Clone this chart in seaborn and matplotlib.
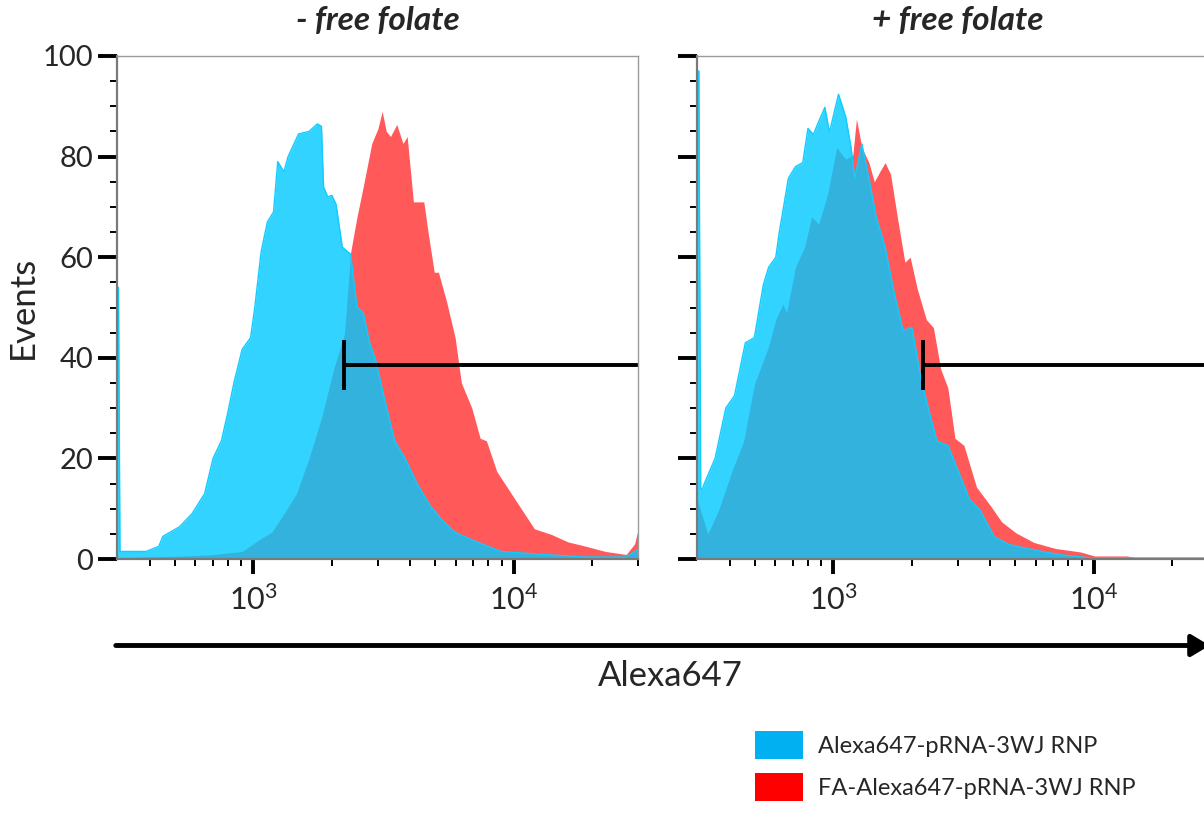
import numpy as np
import pandas as pd
import matplotlib
matplotlib.use("Agg")
import matplotlib.pyplot as plt
import seaborn as sns
from matplotlib.patches import Patch, FancyArrowPatch
from matplotlib.ticker import FixedLocator, FixedFormatter, NullFormatter

# ---------------- data ----------------
# Left panel: - free folate
left_blue_x = [300, 304, 308, 323, 388, 434, 450, 521, 582, 651, 701, 755, 798, 843, 907, 977, 1014,
               1072, 1133, 1197, 1242, 1312, 1361, 1493, 1637, 1763, 1828, 1862, 1932, 2004, 2080,
               2198, 2366, 2502, 2644, 2797, 2957, 3184, 3491, 3828, 4276, 4776, 5334, 5958, 6906,
               8935, 12940, 18700, 27030, 30200]
left_blue_y = [54, 54, 1.5, 1.5, 1.5, 2.5, 4.5, 6.4, 9, 13, 20, 23.5, 29, 35, 41.7, 44, 50,
               61, 67, 69, 79, 77, 80, 84.5, 85, 86.5, 86, 74, 72, 72.3, 70.5,
               62, 60.6, 50, 49, 43, 39.4, 32, 23.5, 20, 14.8, 10.6, 7.6, 5.3, 3.8,
               1.5, 0.9, 0.4, 0.4, 2]

left_red_x = [300, 467, 676, 907, 1052, 1175, 1312, 1466, 1637, 1828, 2042, 2240, 2366, 2502,
              2644, 2851, 3013, 3126, 3243, 3365, 3556, 3758, 3899, 4121, 4518, 4689, 4955, 5142,
              5534, 5958, 6296, 6906, 7433, 7856, 8610, 9618, 10745, 12010, 13930, 16140, 18700,
              22490, 27030, 29100, 30200]
left_red_y = [0.3, 0.5, 0.8, 1.5, 3.8, 5.3, 9, 13, 20, 28, 38, 44.7, 61, 68,
              74, 82.6, 85.6, 89, 85, 84, 86.4, 82.6, 84, 71, 71, 65, 57, 57,
              51, 44, 35, 30, 24, 23.5, 17.4, 13.6, 9.8, 6, 4.9, 3.4, 2.6,
              1.5, 0.9, 3, 6.4]

# Right panel: + free folate
right_blue_x = [300, 305, 310, 315, 320, 352, 387, 418, 460, 498, 539, 565, 602, 621, 673, 716, 764,
                800, 839, 880, 929, 968, 999, 1048, 1117, 1171, 1209, 1288, 1371, 1462, 1582,
                1713, 1855, 2006, 2171, 2351, 2504, 2755, 3031, 3328, 3661, 4156, 4718, 5524,
                6467, 7581, 9770, 22950, 31550]
right_blue_y = [97, 97, 14, 14, 15, 20, 30, 32.5, 43, 44, 54.5, 58, 60, 65, 75.7, 78, 78.8,
                85.6, 84.4, 87, 89.8, 84.8, 87.9, 92.4, 87.9, 81.8, 75.7, 82.5, 75.7, 68, 62,
                53, 45.4, 46, 36, 28.7, 23.4, 22.6, 17.3, 12, 9.7, 4.4, 2.9, 2.1,
                1.4, 0.8, 0.2, 0.2, 0.2]

right_red_x = [300, 330, 363, 412, 453, 498, 565, 602, 641, 662, 716, 776, 826, 880, 953, 1031,
               1117, 1189, 1228, 1288, 1371, 1438, 1509, 1582, 1660, 1770, 1884, 1974, 2102, 2277,
               2425, 2584, 2755, 2933, 3174, 3548, 4027, 4429, 5027, 5888, 7123, 8892, 10090,
               13430, 14760, 31550]
right_red_y = [12, 5, 9.7, 18, 23.4, 34.7, 42.3, 47.6, 50.7, 49, 58, 62, 68, 66.6, 72.7, 81.8,
               79.5, 80.3, 87.5, 81.8, 78.8, 75, 77, 78.8, 76.5, 67.4, 59, 60, 53.7, 47.6,
               46, 37.8, 34, 24, 22.6, 14.3, 10.5, 7.4, 5.2, 3.3, 2.1, 1.4, 0.6,
               0.6, 0.2, 0.2]

gate_x = [2240, 2220]      # gate start per panel
gate_y = 38.5
gate_half = 5

titles = ["- free folate", "+ free folate"]
series_names = ["Alexa647-pRNA-3WJ RNP", "FA-Alexa647-pRNA-3WJ RNP"]
y_ticks = [0, 20, 40, 60, 80, 100]
x_major = [1e3, 1e4]
x_major_labels = [r"$10^3$", r"$10^4$"]
x_minor = [400, 500, 600, 700, 800, 900, 2000, 3000, 4000, 5000, 6000, 7000, 8000, 9000, 20000, 30000]

# ---------------- styling ----------------
sns.set_theme(style="white")
FONT = ["Lato", "DejaVu Sans"]
plt.rcParams["font.family"] = FONT
plt.rcParams["mathtext.fontset"] = "custom"
plt.rcParams["mathtext.rm"] = "Lato"
plt.rcParams["mathtext.it"] = "Lato:italic"

blue_fill = "#00C9FF"
blue_line = "#10CCFF"
red_fill = "#FF0000"

W, H = 1204, 816
fig = plt.figure(figsize=(W / 100, H / 100), dpi=100)

ax_w = 521 / W
ax_h = (559 - 56) / H
ax_b = 1 - 559 / H
axL = fig.add_axes([117 / W, ax_b, ax_w, ax_h])
axR = fig.add_axes([697 / W, ax_b, ax_w, ax_h])

panels = [
    (axL, left_blue_x, left_blue_y, left_red_x, left_red_y),
    (axR, right_blue_x, right_blue_y, right_red_x, right_red_y),
]

for i, (ax, bx, by, rx, ry) in enumerate(panels):
    dfr = pd.DataFrame({"x": rx, "y": ry})
    dfb = pd.DataFrame({"x": bx, "y": by})
    ax.fill_between(dfr["x"], 0, dfr["y"], color=red_fill, alpha=0.65, lw=0)
    ax.fill_between(dfb["x"], 0, dfb["y"], color=blue_fill, alpha=0.8, lw=0)
    sns.lineplot(data=dfb, x="x", y="y", ax=ax, color=blue_line, lw=1.0, estimator=None, sort=False)

    ax.set_xscale("log")
    ax.set_xlim(300, 30000)
    ax.set_ylim(0, 100)

    # gate
    gx = gate_x[i]
    ax.plot([gx, gx], [gate_y - gate_half, gate_y + gate_half], color="black", lw=2.8, solid_capstyle="butt")
    ax.plot([gx, 40000], [gate_y, gate_y], color="black", lw=2.8, solid_capstyle="butt")

    ax.xaxis.set_major_locator(FixedLocator(x_major))
    ax.xaxis.set_major_formatter(FixedFormatter(x_major_labels))
    ax.xaxis.set_minor_locator(FixedLocator(x_minor))
    ax.xaxis.set_minor_formatter(NullFormatter())
    ax.yaxis.set_major_locator(FixedLocator(y_ticks))
    ax.yaxis.set_minor_locator(FixedLocator([v for v in range(5, 100, 5) if v % 20]))

    ax.tick_params(axis="x", which="major", direction="out", length=11, width=2.8, pad=7,
                   labelsize=22, color="black", bottom=True)
    ax.tick_params(axis="x", which="minor", direction="out", length=5, width=1.4, color="black", bottom=True)
    ax.tick_params(axis="y", which="major", direction="out", length=13.5, width=2.8, pad=3.5,
                   labelsize=21, color="black", left=True)
    ax.tick_params(axis="y", which="minor", direction="out", length=5, width=1.4, color="black", left=True)

    for s in ["left", "bottom"]:
        ax.spines[s].set_color("#7A7A7A")
        ax.spines[s].set_linewidth(1.6)
    for s in ["top", "right"]:
        ax.spines[s].set_color("#9A9A9A")
        ax.spines[s].set_linewidth(1)

    ax.set_xlabel("")
    ax.set_ylabel("")
    ax.text(0.5, 1 + 35 / 503, titles[i], transform=ax.transAxes, ha="center", va="center",
            fontsize=24, fontweight="bold", fontstyle="italic")

axR.set_yticklabels([])
axL.set_ylabel("Events", fontsize=25)
axL.yaxis.set_label_coords(-0.150, 0.5)

# axis arrow + label
y_arrow = 1 - 645.5 / H
fig.add_artist(FancyArrowPatch((113 / W, y_arrow), (1.007, y_arrow), transform=fig.transFigure,
                               arrowstyle="-|>,head_length=0.5,head_width=0.3", mutation_scale=22,
                               lw=3.5, color="black"))
fig.text(670 / W, 1 - 676 / H, "Alexa647", ha="center", va="center", fontsize=25)

# legend
handles = [Patch(facecolor="#00B0F0", edgecolor="none"), Patch(facecolor="#FF0000", edgecolor="none")]
fig.legend(handles, series_names, loc="upper left", bbox_to_anchor=(755 / W, 1 - 731 / H),
           bbox_transform=fig.transFigure, frameon=False, fontsize=17, handlelength=2.05,
           handleheight=1.45, handletextpad=0.6, labelspacing=0.6, borderpad=0, borderaxespad=0)

fig.savefig("out.png", dpi=100)
